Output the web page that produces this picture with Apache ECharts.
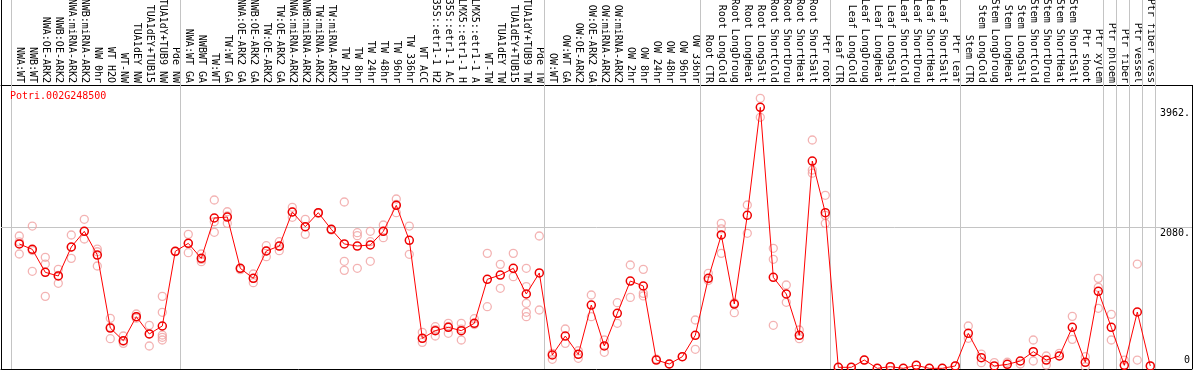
<!DOCTYPE html>
<html><head><meta charset="utf-8">
<script src="https://cdn.jsdelivr.net/npm/echarts@6.0.0/dist/echarts.min.js"></script>
<style>html,body{margin:0;padding:0;background:#fff;}#chart{width:1194px;height:370px;}</style>
</head><body><div id="chart"></div>
<script>
const geneName = 'Potri.002G248500';

const categories = [
  'NWA:WT','NWB:WT','NWA:OE-ARK2','NWB:OE-ARK2','NWA:miRNA-ARK2','NWB:miRNA-ARK2','NW 0hr','WT H2O','WT-NW','TUA1dEY NW','TUA1dEY+TUB15','TUA1dY+TUB9 NW','Pde NW',
  'NWA:WT GA','NWBWT GA','TW:WT','TW:WT GA','NWA:OE-ARK2 GA','NWB:OE-ARK2 GA','TW:OE-ARK2','TW:OE-ARK2 GA','NWA:miRNA-ARK2','NWB:miRNA-ARK2','TW:miRNA-ARK2','TW:miRNA-ARK2','TW 2hr','TW 8hr','TW 24hr','TW 48hr','TW 96hr','TW 336hr','WT ACC','35S::etr1-1 H2','35S::etr1-1 AC','LMX5::etr1-1 H','LMX5::etr1-1 A','WT-TW','TUA1dEY TW','TUA1dEY+TUB15','TUA1dY+TUB9 TW','Pde TW',
  'OW:WT','OW:WT GA','OW:OE-ARK2','OW:OE-ARK2 GA','OW:miRNA-ARK2','OW:miRNA-ARK2','OW 2hr','OW 8hr','OW 24hr','OW 48hr','OW 96hr','OW 336hr',
  'Root CTR','Root LongCold','Root LongDroug','Root LongHeat','Root LongSalt','Root ShortCold','Root ShortDrou','Root ShortHeat','Root ShortSalt','Ptr root',
  'Leaf CTR','Leaf LongCold','Leaf LongDroug','Leaf LongHeat','Leaf LongSalt','Leaf ShortCold','Leaf ShortDrou','Leaf ShortHeat','Leaf ShortSalt','Ptr leaf',
  'Stem CTR','Stem LongCold','Stem LongDroug','Stem LongHeat','Stem LongSalt','Stem ShortCold','Stem ShortDrou','Stem ShortHeat','Stem ShortSalt','Ptr shoot','Ptr xylem',
  'Ptr phloem','Ptr fiber','Ptr vessel','Ptr fiber vess'
];

// number of samples in each separated block
const groupSizes = [13, 28, 12, 10, 10, 11, 1, 1, 1, 1];

const meanValues = [
  1822, 1738, 1378, 1321, 1775, 2020, 1649, 506, 308, 684, 413, 538, 1707,
  1832, 1597, 2229, 2244, 1441, 1284, 1712, 1790, 2323, 2093, 2312, 2051, 1822, 1790, 1806, 2020, 2427, 1879, 345, 465, 517, 465, 580, 1269, 1336, 1441, 1039, 1368,
  84, 381, 94, 866, 225, 736, 1242, 1164, 5, -57, 57, 392,
  1284, 1963, 882, 2271, 3962, 1300, 1039, 392, 3121, 2312,
  -109, -109, 5, -125, -99, -125, -78, -125, -125, -88,
  423, 42, -88, -63, -10, 136, 5, 68, 517, -31, 1081,
  517, -78, 757, -88
];

const replicateValues = [
  [1947, 1665, 1855], [2103, 1394, 1720], [1613, 1508, 1002], [1425, 1206, 1330], [1963, 1597, 1770], [2208, 1900, 2020], [1743, 1477, 1700], [658, 339, 520], [381, 266, 300], [726, 684, 660], [549, 225, 413], [1002, 752, 397, 361, 319], [1707, 1700],
  [1973, 1686, 1832], [1665, 1545, 1580], [2511, 2005, 2170], [2327, 2145, 2260], [1441, 1420], [1352, 1216, 1284], [1795, 1623, 1712], [1858, 1717, 1790], [2396, 2240, 2323], [2208, 1973, 2093], [2312, 2300], [2051, 2040], [2479, 1551, 1409], [1999, 1952, 1441], [2020, 1858, 1551], [2119, 1921, 2020], [2526, 2312, 2440], [2103, 1660], [439, 282, 345], [527, 381, 480], [580, 423, 530], [580, 319, 490], [652, 560], [1675, 840], [1503, 1128], [1675, 1310], [1441, 1154, 893, 752, 684], [1947, 788],
  [16, 110], [491, 266], [32, 150], [1023, 684], [319, 126], [903, 580], [1493, 986], [1425, 1049, 1008], [20], [-57], [57], [632, 173],
  [1362, 1250], [2145, 2060, 1675], [900, 746], [2432, 1989], [4103, 3805], [1754, 1582, 549], [1180, 909], [475, 340], [3450, 2980, 2930], [2584, 2270, 2145],
  [-109], [-109], [5], [-125], [-99], [-125], [-78], [-125], [-125], [-88],
  [538, 345], [99, -36], [-36], [-30], [-57], [319, -10], [68, -73], [110], [689, 329], [57, -100], [1284, 1143, 815],
  [720, 319], [5], [1508, 5], [-88]
];

const yTickValues = [0, 2080, 3962];
const yTickLabels = ['0', '2080.', '3962.'];

// ---- layout constants ----
const GRID_LEFT = 1, GRID_WIDTH = 1191, GRID_HEIGHT = 369;
const FIRST_PX = 19.3, STEP_PX = 13;
const ZERO_PX = 360.35, PX_PER_UNIT = 0.063868;
const FRAME_TOP_PX = 85;
const SEP_OFFSET = 0.62;

const xMin = (GRID_LEFT - FIRST_PX) / STEP_PX;
const xMax = xMin + GRID_WIDTH / STEP_PX;
const yMax = ZERO_PX / PX_PER_UNIT;
const yMin = -(GRID_HEIGHT - ZERO_PX) / PX_PER_UNIT;
const frameTopValue = (ZERO_PX - FRAME_TOP_PX) / PX_PER_UNIT;

const separators = [];
let acc = 0;
groupSizes.forEach(n => { separators.push(acc - SEP_OFFSET); acc += n; });
separators.push(acc - SEP_OFFSET);

const meanData = meanValues.map((v, i) => [i, v]);
const repData = [];
replicateValues.forEach((arr, i) => arr.forEach(v => repData.push([i, v])));

const MONO = 'DejaVu Sans Mono';
const GRAY = '#c4c4c4';
const labelFmt = v => yTickLabels[yTickValues.indexOf(v)];

const chart = echarts.init(document.getElementById('chart'), null, {renderer: 'canvas'});
chart.setOption({
  animation: false,
  backgroundColor: '#fff',
  title: {
    text: geneName, left: 10, top: 91, padding: 0,
    textStyle: {fontFamily: MONO, fontSize: 10, color: '#ff0000', fontWeight: 'normal'}
  },
  grid: {left: GRID_LEFT, top: 0, width: GRID_WIDTH, height: GRID_HEIGHT, containLabel: false, outerBoundsMode: 'none'},
  xAxis: [
    {
      type: 'value', min: xMin, max: xMax, position: 'top', offset: -FRAME_TOP_PX,
      axisLine: {show: true, onZero: false, lineStyle: {color: '#000', width: 1}},
      axisTick: {show: false}, splitLine: {show: false},
      axisLabel: {
        show: true, customValues: categories.map((c, i) => i),
        formatter: v => categories[Math.round(v)], rotate: 90, margin: 2,
        fontFamily: MONO, fontSize: 10, color: '#000', hideOverlap: false
      }
    },
    {
      type: 'value', min: xMin, max: xMax, position: 'bottom',
      axisLine: {show: true, onZero: false, lineStyle: {color: '#000', width: 1}},
      axisTick: {show: false}, splitLine: {show: false}, axisLabel: {show: false}
    }
  ],
  yAxis: [
    {
      type: 'value', min: yMin, max: yMax, position: 'left',
      axisLine: {show: true, onZero: false, lineStyle: {color: '#000', width: 1}},
      axisTick: {show: false}, splitLine: {show: false}, axisLabel: {show: false}
    },
    {
      type: 'value', min: yMin, max: yMax, position: 'right',
      axisLine: {show: false, onZero: false}, axisTick: {show: false}, splitLine: {show: false},
      axisLabel: {
        inside: true, customValues: [yTickValues[1], yTickValues[2]], formatter: labelFmt,
        verticalAlign: 'top', margin: 2, fontFamily: MONO, fontSize: 10, color: '#000',
        backgroundColor: '#fff', padding: [1, 0, 0, 1]
      }
    },
    {
      type: 'value', min: yMin, max: yMax, position: 'right',
      axisLine: {show: false, onZero: false}, axisTick: {show: false}, splitLine: {show: false},
      axisLabel: {
        inside: true, customValues: [yTickValues[0]], formatter: labelFmt,
        verticalAlign: 'middle', margin: 2, fontFamily: MONO, fontSize: 10, color: '#000'
      }
    }
  ],
  series: [
    {
      name: 'replicates', type: 'scatter', xAxisIndex: 0, yAxisIndex: 0, z: 2,
      data: repData, symbol: 'circle', symbolSize: 8,
      itemStyle: {color: 'rgba(0,0,0,0)', borderColor: '#f0a0a0', borderWidth: 1.3},
      markLine: {
        silent: true, symbol: ['none', 'none'], label: {show: false}, z: 1,
        lineStyle: {color: GRAY, width: 1, type: 'solid'},
        data: separators.map(s => ({xAxis: s}))
          .concat([{yAxis: yTickValues[1]}])
          .concat([[{coord: [xMax, frameTopValue], lineStyle: {color: '#000', width: 1, type: 'solid'}}, {coord: [xMax, yMin]}]])
      }
    },
    {
      name: geneName, type: 'line', xAxisIndex: 0, yAxisIndex: 0, z: 3,
      data: meanData, showAllSymbol: true, symbol: 'circle', symbolSize: 8,
      lineStyle: {color: '#ff0000', width: 1},
      itemStyle: {color: 'rgba(0,0,0,0)', borderColor: '#ee0000', borderWidth: 1.5}
    }
  ]
});
</script>
</body></html>
